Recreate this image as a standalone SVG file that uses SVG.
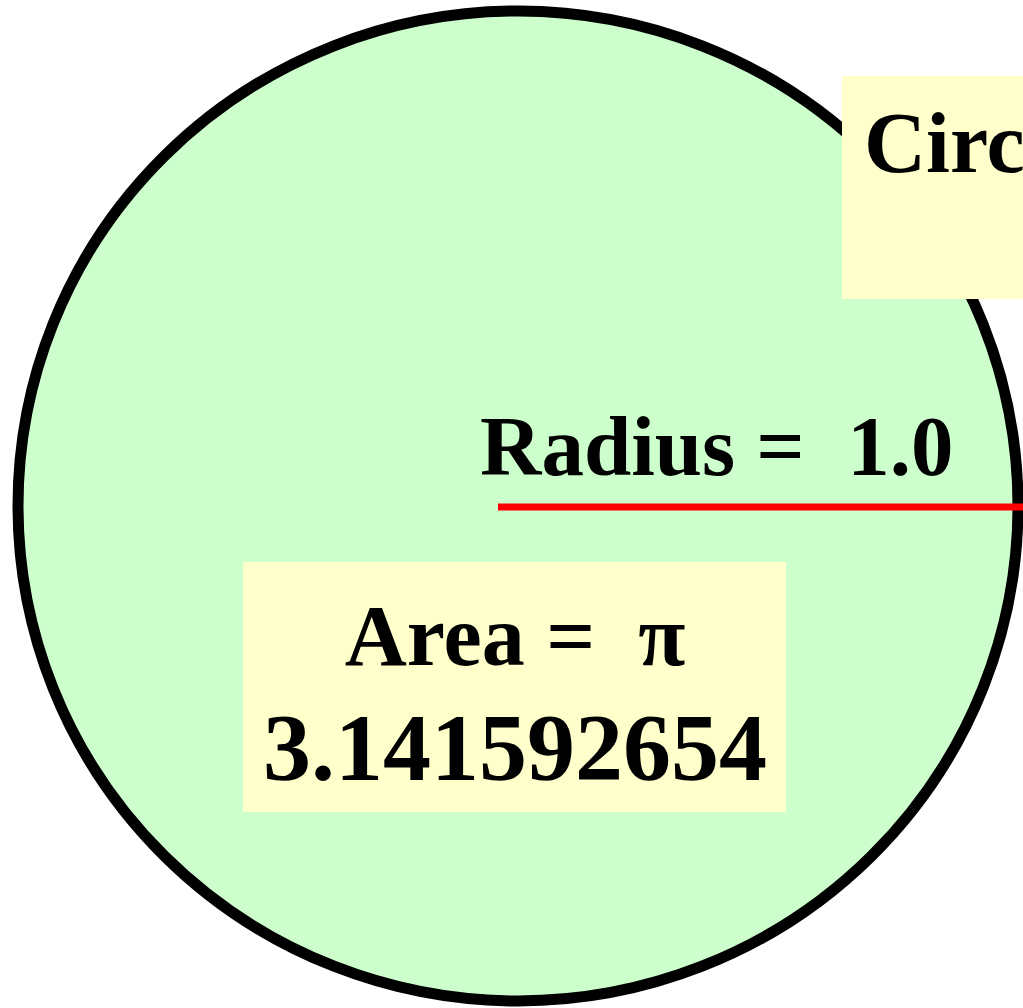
<svg xmlns="http://www.w3.org/2000/svg" width="1023" height="1008" viewBox="0 0 1023 1008">
  <style>
    .t { font-family: "Liberation Serif", "Times New Roman", serif; font-weight: bold; fill: #000; white-space: pre; }
    .box { fill: #FFFFCC; }
  </style>
  <rect x="0" y="0" width="1023" height="1008" fill="#FFFFFF"/>
  <g id="circle">
    <ellipse cx="518" cy="506" rx="500" ry="495" fill="#CCFFCC" stroke="#000" stroke-width="11"/>
  </g>
  <g id="circ-label">
    <rect class="box" x="842" y="76" width="190" height="223"/>
    <text class="t" x="864" y="172" font-size="86">Circ</text>
  </g>
  <g id="connectors">
    <line x1="498" y1="507" x2="1023" y2="507" stroke="#FF0000" stroke-width="7"/>
  </g>
  <g id="radius-label">
    <text class="t" x="480" y="475" font-size="85" xml:space="preserve">Radius =  1.0</text>
  </g>
  <g id="area-label">
    <rect class="box" x="243" y="562" width="543" height="250"/>
    <text class="t" x="515" y="665" font-size="86" text-anchor="middle" xml:space="preserve">Area =  π</text>
    <text class="t" x="515" y="780" font-size="96" text-anchor="middle">3.141592654</text>
  </g>
</svg>
